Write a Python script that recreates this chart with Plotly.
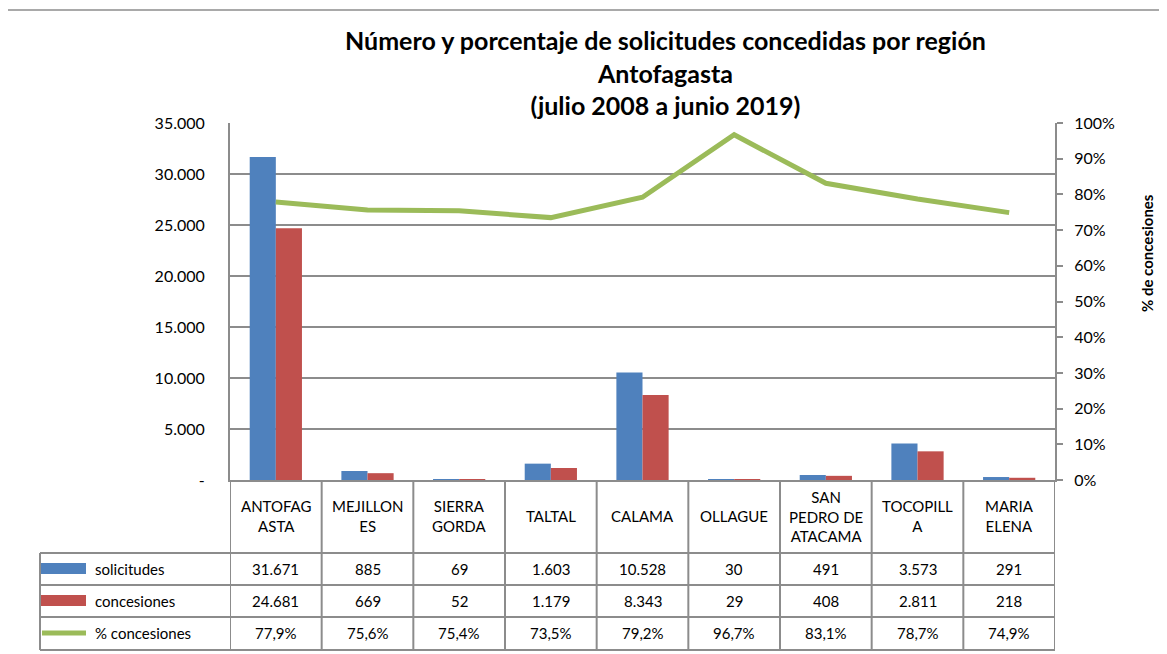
import plotly.graph_objects as go

# ---------------- data ----------------
categories = ["ANTOFAGASTA", "MEJILLONES", "SIERRA GORDA", "TALTAL", "CALAMA",
              "OLLAGUE", "SAN PEDRO DE ATACAMA", "TOCOPILLA", "MARIA ELENA"]
category_labels = ["ANTOFAG<br>ASTA", "MEJILLON<br>ES", "SIERRA<br>GORDA", "TALTAL",
                   "CALAMA", "OLLAGUE", "SAN<br>PEDRO DE<br>ATACAMA", "TOCOPILL<br>A",
                   "MARIA<br>ELENA"]
solicitudes = [31671, 885, 69, 1603, 10528, 30, 491, 3573, 291]
concesiones = [24681, 669, 52, 1179, 8343, 29, 408, 2811, 218]
pct_concesiones = [77.9, 75.6, 75.4, 73.5, 79.2, 96.7, 83.1, 78.7, 74.9]

y_ticks = [0, 5000, 10000, 15000, 20000, 25000, 30000, 35000]
y_tick_labels = ["-", "5.000", "10.000", "15.000", "20.000", "25.000", "30.000", "35.000"]
y2_ticks = [0, 10, 20, 30, 40, 50, 60, 70, 80, 90, 100]
y2_tick_labels = ["0%", "10%", "20%", "30%", "40%", "50%", "60%", "70%", "80%", "90%", "100%"]

series_names = ["solicitudes", "concesiones", "% concesiones"]
title_text = "<b>Número y porcentaje de solicitudes concedidas por región<br>Antofagasta<br>(julio 2008 a junio 2019)</b>"
y2_title = "<b>% de concesiones</b>"

BLUE, RED, GREEN = "#4F81BD", "#C0504D", "#9BBB59"
GRID = "#8c8c8c"
FONT = "Lato"

OFF = 8  # page body margin offset
W, H = 1167 - OFF, 654 - OFF
L, R, T, B = 230, 1055, 123, 480  # plot area in screen pixels


def py(p):  # screen pixel y -> paper y
    return (B - p) / (B - T)


def px(p):  # screen pixel x -> paper x
    return (p - L) / (R - L)


def fmt_int(v):
    return f"{v:,}".replace(",", ".")


def fmt_pct(v):
    return f"{v:.1f}%".replace(".", ",")


fig = go.Figure()
fig.add_trace(go.Bar(x=categories, y=solicitudes, name=series_names[0],
                     marker=dict(color=BLUE, line=dict(width=0))))
fig.add_trace(go.Bar(x=categories, y=concesiones, name=series_names[1],
                     marker=dict(color=RED, line=dict(width=0))))
fig.add_trace(go.Scatter(x=categories, y=pct_concesiones, name=series_names[2], yaxis="y2",
                         mode="lines", line=dict(color=GREEN, width=5)))

shapes = []
annotations = []

# outer chart border (top & left)
shapes.append(dict(type="line", xref="paper", yref="paper", x0=px(7), x1=px(1175),
                   y0=py(10), y1=py(10), line=dict(color=GRID, width=1.5)))
shapes.append(dict(type="line", xref="paper", yref="paper", x0=px(7), x1=px(7),
                   y0=py(10), y1=py(660), line=dict(color=GRID, width=1.5)))

# data-table geometry
row_edges = [553, 585, 617, 650]
n = len(categories)
for i in range(n + 1):
    shapes.append(dict(type="line", xref="x", yref="paper", x0=i - 0.5, x1=i - 0.5,
                       y0=py(480), y1=py(650), line=dict(color=GRID, width=2)))
for r in row_edges:
    shapes.append(dict(type="line", xref="paper", yref="paper", x0=px(40), x1=px(1055),
                       y0=py(r), y1=py(r), line=dict(color=GRID, width=2)))
shapes.append(dict(type="line", xref="paper", yref="paper", x0=px(40), x1=px(40),
                   y0=py(553), y1=py(650), line=dict(color=GRID, width=2)))

# legend keys
shapes.append(dict(type="rect", xref="paper", yref="paper", x0=px(41), x1=px(86),
                   y0=py(563), y1=py(574), fillcolor=BLUE, line=dict(width=0)))
shapes.append(dict(type="rect", xref="paper", yref="paper", x0=px(41), x1=px(86),
                   y0=py(595), y1=py(606), fillcolor=RED, line=dict(width=0)))
shapes.append(dict(type="line", xref="paper", yref="paper", x0=px(42), x1=px(86),
                   y0=py(633), y1=py(633), line=dict(color=GREEN, width=5)))

row_centers = [569, 601, 633]
for name, yc in zip(series_names, row_centers):
    annotations.append(dict(text=name, xref="paper", yref="paper", x=px(93), y=py(yc),
                            xanchor="left", yanchor="middle", showarrow=False,
                            font=dict(family=FONT, size=15, color="#000")))

for cat, lab in zip(categories, category_labels):
    annotations.append(dict(text=lab, xref="x", yref="paper", x=cat, y=py(516),
                            xanchor="center", yanchor="middle", showarrow=False,
                            font=dict(family=FONT, size=15, color="#000")))

rows = [[fmt_int(v) for v in solicitudes],
        [fmt_int(v) for v in concesiones],
        [fmt_pct(v) for v in pct_concesiones]]
for vals, yc in zip(rows, row_centers):
    for cat, t in zip(categories, vals):
        annotations.append(dict(text=t, xref="x", yref="paper", x=cat, y=py(yc),
                                xanchor="center", yanchor="middle", showarrow=False,
                                font=dict(family=FONT, size=15, color="#000")))

annotations.append(dict(text=title_text, xref="paper", yref="paper", x=px(665), y=py(72),
                        xanchor="center", yanchor="middle", showarrow=False,
                        font=dict(family=FONT, size=25, color="#000")))
annotations.append(dict(text=y2_title, xref="paper", yref="paper", x=px(1147), y=py(253),
                        xanchor="center", yanchor="middle", showarrow=False, textangle=-90,
                        font=dict(family=FONT, size=15, color="#000")))

fig.update_layout(
    width=W, height=H,
    margin=dict(l=L - OFF, r=(W + OFF) - R, t=T - OFF, b=(H + OFF) - B, pad=0),
    paper_bgcolor="white", plot_bgcolor="white",
    barmode="group", bargap=0.43, bargroupgap=0,
    showlegend=False,
    font=dict(family=FONT, size=15, color="#000"),
    xaxis=dict(range=[-0.5, n - 0.5], showticklabels=False, ticks="", showgrid=False,
               showline=True, linecolor=GRID, linewidth=2, zeroline=False, fixedrange=True),
    yaxis=dict(range=[0, 35000], tickvals=y_ticks, ticktext=y_tick_labels,
               showgrid=True, gridcolor=GRID, gridwidth=1.5, zeroline=False,
               showline=True, linecolor=GRID, linewidth=2, ticks="",
               ticklabelstandoff=20, tickfont=dict(family=FONT, size=16)),
    yaxis2=dict(range=[0, 100], overlaying="y", side="right", tickvals=y2_ticks,
                ticktext=y2_tick_labels, showgrid=False, zeroline=False,
                showline=True, linecolor=GRID, linewidth=2, ticks="outside",
                ticklen=6, tickcolor=GRID, tickwidth=1.5, ticklabelstandoff=8,
                tickfont=dict(family=FONT, size=16)),
    shapes=shapes,
    annotations=annotations,
)

fig.write_html("out.html")
